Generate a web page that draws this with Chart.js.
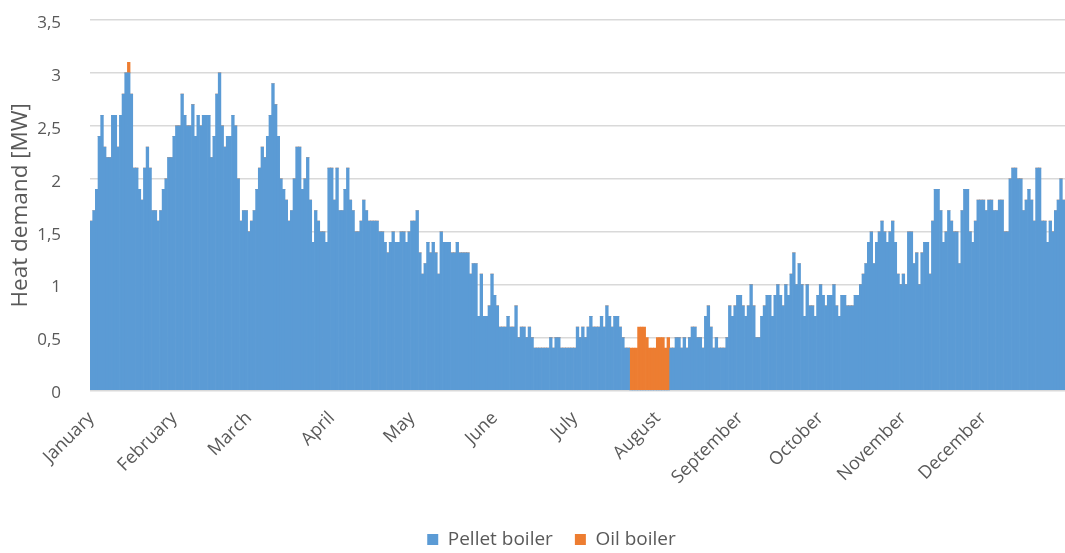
<!DOCTYPE html>
<html>
<head>
<meta charset="utf-8">
<script src="https://cdn.jsdelivr.net/npm/chart.js@4"></script>
<style>
  html, body { margin: 0; padding: 0; background: #ffffff; }
  canvas { display: block; }
</style>
</head>
<body>
<canvas id="c" width="1065" height="553"></canvas>
<script>
// ---- data ----
const monthNames = ['January','February','March','April','May','June','July','August','September','October','November','December'];
const monthLengths = [31,28,31,30,31,30,31,31,30,31,30,31];

// daily peak heat demand supplied by the pellet boiler [MW], day 1..365
const pelletBoiler = [
  1.6,1.7,1.9,2.4,2.6,2.3,2.2,2.2,2.6,2.6,
  2.3,2.6,2.8,3.0,3.0,2.8,2.1,2.1,1.9,1.8,
  2.1,2.3,2.1,1.7,1.7,1.6,1.7,1.9,2.0,2.2,
  2.2,2.4,2.5,2.5,2.8,2.6,2.5,2.5,2.7,2.4,
  2.6,2.5,2.6,2.6,2.6,2.2,2.4,2.8,3.0,2.5,
  2.3,2.4,2.4,2.6,2.5,2.0,1.6,1.7,1.7,1.5,
  1.6,1.7,1.9,2.1,2.3,2.2,2.4,2.6,2.9,2.7,
  2.4,2.0,1.9,1.8,1.6,1.7,2.0,2.3,2.3,1.9,
  2.0,2.2,1.8,1.4,1.7,1.6,1.5,1.5,1.4,2.1,
  2.1,1.8,2.1,1.7,1.7,1.9,2.1,1.8,1.7,1.5,
  1.5,1.6,1.8,1.7,1.6,1.6,1.6,1.6,1.5,1.5,
  1.4,1.3,1.4,1.5,1.4,1.4,1.5,1.5,1.4,1.5,
  1.6,1.6,1.7,1.3,1.1,1.2,1.4,1.3,1.4,1.3,
  1.1,1.5,1.4,1.4,1.4,1.3,1.3,1.4,1.3,1.3,
  1.3,1.3,1.1,1.2,1.2,0.7,1.1,0.7,0.7,0.8,
  1.1,0.9,0.8,0.6,0.6,0.6,0.7,0.6,0.6,0.8,
  0.5,0.6,0.6,0.5,0.6,0.5,0.4,0.4,0.4,0.4,
  0.4,0.4,0.5,0.4,0.5,0.5,0.4,0.4,0.4,0.4,
  0.4,0.4,0.6,0.5,0.6,0.5,0.6,0.7,0.6,0.6,
  0.6,0.7,0.6,0.8,0.7,0.6,0.7,0.7,0.6,0.5,
  0.4,0.4,0,0,0,0,0,0,0,0,
  0,0,0,0,0,0,0,0.4,0.4,0.5,
  0.5,0.4,0.5,0.4,0.5,0.6,0.6,0.5,0.5,0.4,
  0.7,0.8,0.6,0.4,0.5,0.4,0.4,0.4,0.5,0.8,
  0.7,0.8,0.9,0.9,0.8,0.7,0.8,1.0,0.8,0.5,
  0.5,0.7,0.8,0.9,0.9,0.7,0.9,1.0,0.9,0.8,
  1.0,0.9,1.1,1.3,1.0,1.2,1.0,0.7,1.0,0.8,
  0.8,0.7,0.9,1.0,0.9,0.8,0.9,0.9,1.0,0.8,
  0.7,0.9,0.9,0.8,0.8,0.8,0.9,0.9,1.0,1.1,
  1.2,1.4,1.5,1.2,1.4,1.5,1.6,1.5,1.4,1.5,
  1.6,1.4,1.1,1.0,1.1,1.0,1.5,1.5,1.2,1.3,
  1.0,1.3,1.4,1.4,1.1,1.6,1.9,1.9,1.7,1.4,
  1.5,1.7,1.6,1.5,1.5,1.2,1.7,1.9,1.9,1.5,
  1.4,1.6,1.8,1.8,1.8,1.7,1.8,1.8,1.7,1.7,
  1.8,1.8,1.5,1.5,2.0,2.1,2.1,2.0,2.0,1.7,
  1.8,1.9,1.8,1.6,2.1,2.1,1.6,1.6,1.4,1.6,
  1.5,1.7,1.8,2.0,1.8
];

// days (0-based) on which the oil boiler runs, and its daily peak [MW]
const oilDays   = [14, 202,203,204,205,206,207,208,209,210,211,212,213,214,215,216];
const oilValues = [0.1, 0.4,0.4,0.4,0.6,0.6,0.6,0.5,0.4,0.4,0.4,0.5,0.5,0.5,0.4,0.5];

const yTickLabels = ['0','0,5','1','1,5','2','2,5','3','3,5'];

// ---- build tables for the library ----
const dayLabels = [];
const monthStartLabel = {};
monthNames.forEach((m, mi) => {
  for (let d = 1; d <= monthLengths[mi]; d++) {
    if (d === 1) monthStartLabel[dayLabels.length] = m;
    dayLabels.push(m + ' ' + d);
  }
});
const oilBoiler = dayLabels.map(() => 0);
oilDays.forEach((d, i) => { oilBoiler[d] = oilValues[i]; });

const TXT = '#595959';
Chart.defaults.font.family = "'Open Sans', sans-serif";
Chart.defaults.color = TXT;

const legendShift = {
  id: 'legendShift',
  afterLayout(chart) {
    const l = chart.legend;
    if (l) { l.left += 19; l.right += 19; }
  }
};

new Chart(document.getElementById('c'), {
  type: 'bar',
  data: {
    labels: dayLabels,
    datasets: [
      { label: 'Pellet boiler', data: pelletBoiler, backgroundColor: '#5B9BD5', borderWidth: 0,
        barPercentage: 1, categoryPercentage: 1 },
      { label: 'Oil boiler', data: oilBoiler, backgroundColor: '#ED7D31', borderWidth: 0,
        barPercentage: 1, categoryPercentage: 1 }
    ]
  },
  options: {
    responsive: false,
    devicePixelRatio: 1,
    animation: false,
    layout: { padding: { top: 20, left: 0, right: 0, bottom: -6 } },
    plugins: {
      legend: {
        position: 'bottom',
        labels: {
          boxWidth: 11, boxHeight: 11, padding: 22,
          font: { size: 19 }, color: TXT
        }
      },
      tooltip: { enabled: false }
    },
    scales: {
      x: {
        stacked: true,
        grid: { display: false, drawTicks: false },
        border: { display: false },
        ticks: {
          autoSkip: false, minRotation: 45, maxRotation: 45,
          padding: 17, color: TXT, font: { size: 18 },
          callback: (v, i) => monthStartLabel[i] || ''
        },
        afterFit: (s) => { s.height = 117.5; s.paddingLeft = 0; s.paddingRight = 0; }
      },
      y: {
        stacked: true,
        min: 0, max: 3.5,
        grid: { color: '#d9d9d9', lineWidth: 1.5, drawTicks: false },
        border: { display: false },
        ticks: {
          stepSize: 0.5, padding: 29, labelOffset: 3, color: TXT, font: { size: 17 },
          callback: (v, i) => yTickLabels[i]
        },
        title: {
          display: true, text: 'Heat demand [MW]', color: TXT,
          font: { size: 22.5 }, padding: { top: 7, bottom: 0 }
        },
        afterFit: (s) => { s.width = 90; s.paddingTop = 0; s.paddingBottom = 0; }
      }
    }
  },
  plugins: [legendShift]
});
</script>
</body>
</html>
